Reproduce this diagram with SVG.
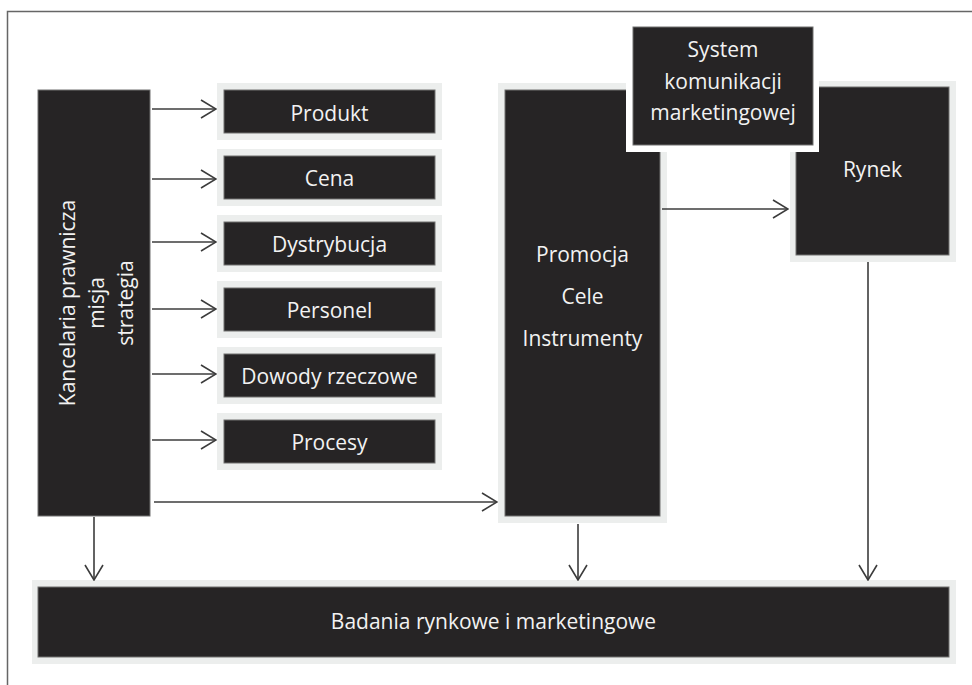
<svg xmlns="http://www.w3.org/2000/svg" width="972" height="685" viewBox="0 0 972 685">
<style>
.frame{fill:#eceeed}
.box{fill:#262425;stroke:#707070;stroke-width:1}
.t{font-family:"Open Sans","Noto Sans",sans-serif;font-size:21px;fill:#f2f2f2;text-anchor:middle}
.c{fill:none;stroke:#3c3c3c;stroke-width:1.6}
</style>
<defs>
<marker id="ah" viewBox="0 0 17 20" refX="16" refY="10" markerWidth="17" markerHeight="20" markerUnits="userSpaceOnUse" orient="auto">
<path d="M1,1 L16,10 L1,19" fill="none" stroke="#3c3c3c" stroke-width="1.6"/>
</marker>
</defs>
<rect width="972" height="685" fill="#fff"/>
<path d="M7.5,685 V11.5 H972" fill="none" stroke="#666" stroke-width="1.5"/>

<g id="kancelaria">
<rect class="box" x="38" y="90" width="112" height="426"/>
<text class="t" font-size="20.5" transform="translate(75,303) rotate(-90)">Kancelaria prawnicza</text>
<text class="t" font-size="20.5" transform="translate(104,303) rotate(-90)">misja</text>
<text class="t" font-size="20.5" transform="translate(133,303) rotate(-90)">strategia</text>
</g>

<g id="produkt">
<rect class="frame" x="217" y="83" width="225" height="57"/>
<rect class="box" x="224" y="90" width="211" height="43"/>
<text class="t" x="329.5" y="121">Produkt</text>
</g>
<g id="cena">
<rect class="frame" x="217" y="149" width="225" height="57"/>
<rect class="box" x="224" y="156" width="211" height="43"/>
<text class="t" x="329.5" y="186">Cena</text>
</g>
<g id="dystrybucja">
<rect class="frame" x="217" y="215" width="225" height="57"/>
<rect class="box" x="224" y="222" width="211" height="43"/>
<text class="t" x="329.5" y="252">Dystrybucja</text>
</g>
<g id="personel">
<rect class="frame" x="217" y="281" width="225" height="57"/>
<rect class="box" x="224" y="288" width="211" height="43"/>
<text class="t" x="329.5" y="318">Personel</text>
</g>
<g id="dowody">
<rect class="frame" x="217" y="347" width="225" height="57"/>
<rect class="box" x="224" y="354" width="211" height="43"/>
<text class="t" x="329.5" y="384">Dowody rzeczowe</text>
</g>
<g id="procesy">
<rect class="frame" x="217" y="413" width="225" height="57"/>
<rect class="box" x="224" y="420" width="211" height="43"/>
<text class="t" x="329.5" y="450">Procesy</text>
</g>

<g id="promocja">
<rect class="frame" x="498" y="83" width="169" height="440"/>
<rect class="box" x="505" y="90" width="155" height="426"/>
<text class="t" x="582.5" y="262">Promocja</text>
<text class="t" x="582.5" y="304">Cele</text>
<text class="t" x="582.5" y="346">Instrumenty</text>
</g>

<g id="rynek">
<rect class="frame" x="790" y="81" width="166" height="181"/>
<rect class="box" x="796" y="87" width="153" height="168"/>
<text class="t" x="872.5" y="177">Rynek</text>
</g>

<g id="system">
<rect x="626" y="20" width="193" height="132" fill="#fff"/>
<rect class="box" x="633" y="27" width="180" height="118"/>
<text class="t" x="723" y="57">System</text>
<text class="t" x="723" y="89">komunikacji</text>
<text class="t" x="723" y="120">marketingowej</text>
</g>

<g id="badania">
<rect class="frame" x="32" y="580" width="924" height="84"/>
<rect class="box" x="38" y="587" width="911" height="70"/>
<text class="t" font-size="20.5" x="493.5" y="629">Badania rynkowe i marketingowe</text>
</g>

<g id="connectors">
<line class="c" x1="152" y1="109" x2="216" y2="109" marker-end="url(#ah)"/>
<line class="c" x1="152" y1="179" x2="216" y2="179" marker-end="url(#ah)"/>
<line class="c" x1="152" y1="242" x2="216" y2="242" marker-end="url(#ah)"/>
<line class="c" x1="152" y1="309" x2="216" y2="309" marker-end="url(#ah)"/>
<line class="c" x1="152" y1="374" x2="216" y2="374" marker-end="url(#ah)"/>
<line class="c" x1="152" y1="440" x2="216" y2="440" marker-end="url(#ah)"/>
<line class="c" x1="154" y1="502" x2="497" y2="502" marker-end="url(#ah)"/>
<line class="c" x1="662" y1="209" x2="788" y2="209" marker-end="url(#ah)"/>
<line class="c" x1="94" y1="517" x2="94" y2="580" marker-end="url(#ah)"/>
<line class="c" x1="578" y1="524" x2="578" y2="580" marker-end="url(#ah)"/>
<line class="c" x1="868" y1="262" x2="868" y2="580" marker-end="url(#ah)"/>
</g>
</svg>
